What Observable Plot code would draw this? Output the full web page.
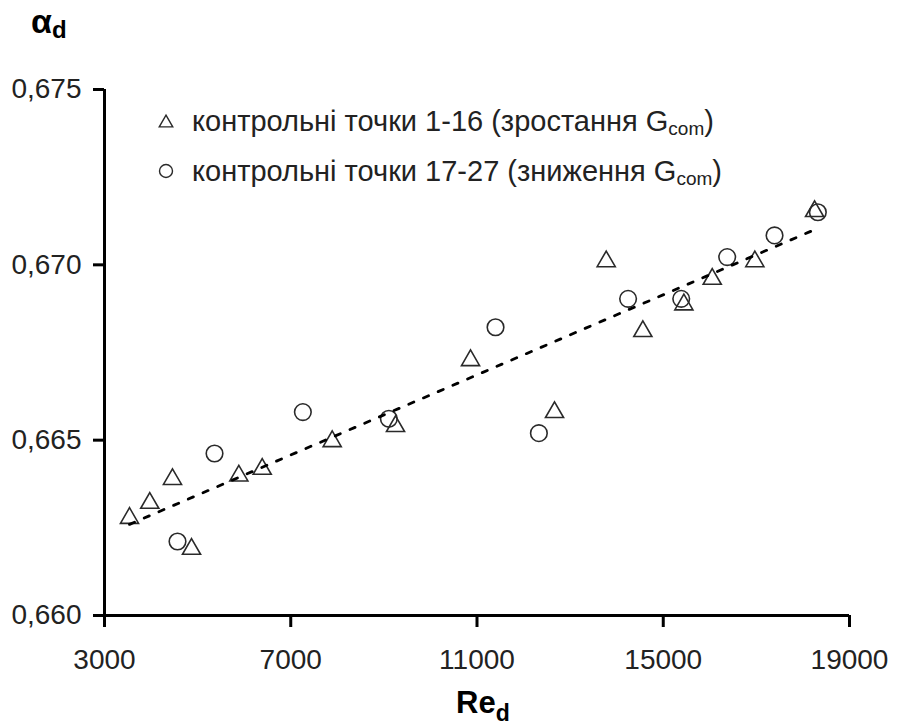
<!DOCTYPE html>
<html><head><meta charset="utf-8">
<script src="https://cdn.jsdelivr.net/npm/d3@7"></script>
<script src="https://cdn.jsdelivr.net/npm/@observablehq/plot@0.6"></script>
<style>
body{margin:0;background:#fff}
#chart svg{font-family:"Liberation Sans",Arial,sans-serif;overflow:visible}
</style>
</head><body><div id="chart"></div>
<script>
// Control points 1-16 (increasing G_com) — triangles
const reRising    = [3537, 3972, 4460, 4869, 5885, 6387, 7890, 9250, 10861, 12665, 13775, 14562, 15443, 16052, 16967, 18250];
const alphaRising = [0.66285, 0.66328, 0.66396, 0.66197, 0.66406, 0.66425, 0.66504, 0.66547, 0.66735, 0.66587, 0.67017, 0.66818, 0.66894, 0.66967, 0.67017, 0.67160];
// Control points 17-27 (decreasing G_com) — circles
const reFalling    = [4568, 5363, 7260, 9107, 11398, 12329, 14245, 15386, 16373, 17390, 18320];
const alphaFalling = [0.66211, 0.66462, 0.66580, 0.66561, 0.66822, 0.66520, 0.66903, 0.66903, 0.67022, 0.67084, 0.67150];

const xTicks = [3000, 7000, 11000, 15000, 19000];
const yTicks = [0.660, 0.665, 0.670, 0.675];
const legendMain = ["контрольні точки 1-16 (зростання G", "контрольні точки 17-27 (зниження G"];
const legendSub = "com";

const rising = reRising.map((x, i) => ({x, y: alphaRising[i]}));
const falling = reFalling.map((x, i) => ({x, y: alphaFalling[i]}));
const all = rising.concat(falling);

// triangle centred on its bounding box (spreadsheet-style marker)
const boxTriangle = {
  draw(ctx, size) {
    const r = Math.sqrt(size / Math.PI);
    const hw = r * 1.35, hh = r * 1.17;
    ctx.moveTo(0, -hh); ctx.lineTo(hw, hh); ctx.lineTo(-hw, hh); ctx.closePath();
  }
};

const chart = Plot.plot({
  width: 905, height: 727,
  marginLeft: 104, marginRight: 56, marginTop: 89, marginBottom: 112,
  style: {fontFamily: '"Liberation Sans", Arial, sans-serif', color: "#222", background: "#fff"},
  x: {domain: [3000, 19000]},
  y: {domain: [0.660, 0.675]},
  marks: [
    Plot.axisX({ticks: xTicks, tickSize: 12, tickPadding: 22, tickFormat: d => String(d), fontSize: 28, strokeWidth: 3, stroke: "#000", label: null}),
    Plot.axisY({ticks: yTicks, tickSize: 11, tickPadding: 12, tickFormat: d => d3.format(".3f")(d).replace(".", ","), fontSize: 28, strokeWidth: 3, stroke: "#000", label: null}),
    Plot.ruleY([0.660], {stroke: "#000", strokeWidth: 3}),
    Plot.ruleX([3000], {stroke: "#000", strokeWidth: 3}),
    Plot.dot(rising, {x: "x", y: "y", r: 6.7, symbol: boxTriangle, stroke: "#2a2a2a", strokeWidth: 1.6, fill: "none"}),
    Plot.dot(falling, {x: "x", y: "y", r: 8.3, symbol: "circle", stroke: "#2a2a2a", strokeWidth: 1.6, fill: "none"}),
    Plot.linearRegressionY(all, {x: "x", y: "y", ci: 0, stroke: "#000", strokeWidth: 2.8, strokeDasharray: "5.5,10.5"})
  ]
});

const svg = d3.select(chart);
// axis titles
const yt = svg.append("text").attr("x", 31).attr("y", 33).attr("fill", "#000").attr("font-weight", "bold").attr("text-anchor", "start");
yt.append("tspan").attr("font-size", 34).text("α");
yt.append("tspan").attr("font-size", 24).attr("dy", 5).text("d");
const xt = svg.append("text").attr("x", 456).attr("y", 713).attr("fill", "#000").attr("font-weight", "bold").attr("text-anchor", "start");
xt.append("tspan").attr("font-size", 31).text("Re");
xt.append("tspan").attr("font-size", 23).attr("dy", 8).text("d");

// legend
const lg = svg.append("g").attr("text-anchor", "start");
const rows = [{y: 121, sym: "tri"}, {y: 171, sym: "circ"}];
rows.forEach((row, i) => {
  if (row.sym === "tri") {
    lg.append("path").attr("d", d3.symbol(boxTriangle, Math.PI * 5.0 * 5.0)()).attr("transform", `translate(166,${row.y})`)
      .attr("fill", "none").attr("stroke", "#2a2a2a").attr("stroke-width", 1.4);
  } else {
    lg.append("circle").attr("cx", 166).attr("cy", row.y).attr("r", 6.5)
      .attr("fill", "none").attr("stroke", "#2a2a2a").attr("stroke-width", 1.4);
  }
  const t = lg.append("text").attr("x", 192).attr("y", row.y + 10).attr("font-size", 29).attr("fill", "#222").attr("text-anchor", "start");
  t.append("tspan").text(legendMain[i]);
  t.append("tspan").attr("font-size", 19).attr("dy", 4).text(legendSub);
  t.append("tspan").attr("dy", -4).text(")");
});

document.getElementById("chart").appendChild(chart);
</script>
</body></html>
